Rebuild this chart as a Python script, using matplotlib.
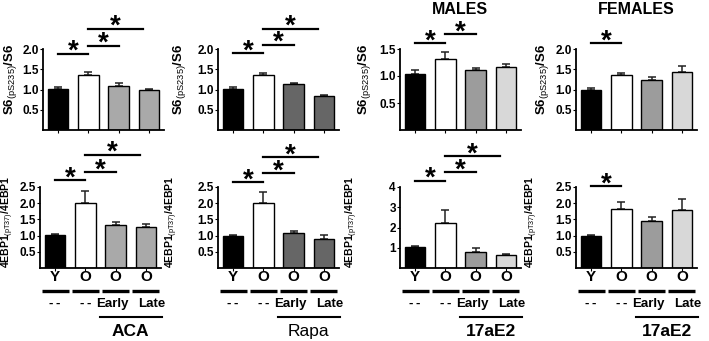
import matplotlib
matplotlib.use('Agg')
import matplotlib.pyplot as plt
import matplotlib.transforms as mtransforms

plt.rcParams['font.family'] = ['Liberation Sans', 'DejaVu Sans']
plt.rcParams['mathtext.fontset'] = 'custom'
plt.rcParams['mathtext.rm'] = 'Liberation Sans'
plt.rcParams['mathtext.default'] = 'rm'

# ---- data ----
groups = ['Y', 'O', 'O', 'O']
treat_labels = ['-\u2009-', '-\u2009-', 'Early', 'Late']
drugs = ['ACA', 'Rapa', '17aE2', '17aE2']
titles = ['', '', 'MALES', 'FEMALES']

# S6(pS235)/S6 (top row)
s6_aca = [1.02, 1.37, 1.08, 1.00]
s6_aca_err = [0.04, 0.05, 0.07, 0.02]
s6_rapa = [1.02, 1.35, 1.13, 0.83]
s6_rapa_err = [0.04, 0.05, 0.04, 0.04]
s6_males = [1.04, 1.32, 1.11, 1.16]
s6_males_err = [0.07, 0.12, 0.03, 0.07]
s6_females = [1.00, 1.37, 1.24, 1.44]
s6_females_err = [0.03, 0.04, 0.08, 0.15]

# 4EBP1(pT37)/4EBP1 (bottom row)
ebp_aca = [1.02, 2.02, 1.32, 1.26]
ebp_aca_err = [0.03, 0.35, 0.10, 0.10]
ebp_rapa = [1.00, 2.02, 1.08, 0.90]
ebp_rapa_err = [0.03, 0.33, 0.05, 0.12]
ebp_males = [1.03, 2.22, 0.80, 0.63]
ebp_males_err = [0.07, 0.65, 0.20, 0.07]
ebp_females = [1.00, 1.82, 1.45, 1.78]
ebp_females_err = [0.02, 0.23, 0.12, 0.35]

# significant comparisons (bar index pairs)
sig_top = [[(0, 1), (1, 2), (1, 3)],
           [(0, 1), (1, 2), (1, 3)],
           [(0, 1), (1, 2)],
           [(0, 1)]]
sig_bottom = [[(0, 1), (1, 2), (1, 3)],
              [(0, 1), (1, 2), (1, 3)],
              [(0, 1), (1, 2), (1, 3)],
              [(0, 1)]]

# ---- styles ----
colors_aca = ['black', 'white', '#a9a9a9', '#a9a9a9']
colors_rapa = ['black', 'white', '#666666', '#666666']
colors_17a = ['black', 'white', '#9c9c9c', '#d8d8d8']
panel_colors = [colors_aca, colors_rapa, colors_17a, colors_17a]

top_ticks = [[0.5, 1.0, 1.5, 2.0], [0.5, 1.0, 1.5, 2.0], [0.5, 1.0, 1.5], [0.5, 1.0, 1.5, 2.0]]
bot_ticks = [[0.5, 1.0, 1.5, 2.0, 2.5], [0.5, 1.0, 1.5, 2.0, 2.5], [1, 2, 3, 4], [0.5, 1.0, 1.5, 2.0, 2.5]]

# line heights for significance bars (axes fraction)
top_sig_y = [[0.94, 1.04, 1.25], [0.95, 1.05, 1.25], [1.07, 1.185], [1.07]]
bot_sig_y = [[1.085, 1.185, 1.395], [1.06, 1.17, 1.37], [1.075, 1.185, 1.38], [1.01]]

# label x positions (axes fraction)
top_label_x = [-0.2, -0.25, -0.22, -0.21]
bot_label_x = [-0.2, -0.31, -0.33, -0.3]
treat_offsets = [0, 0, -0.12, 0.18]

W, H = 709, 341
fig = plt.figure(figsize=(W / 100, H / 100), dpi=100)

top_left = [43, 218, 400, 576]
bot_left = [40, 218, 400, 576]


def px_axes(left, top, bottom, width=121):
    return fig.add_axes([left / W, (H - bottom) / H, width / W, (bottom - top) / H])


def draw_panel(ax, vals, errs, cols, ticks, sigs, sig_y, ylabel, label_size, fmt):
    x = range(len(vals))
    ax.bar(x, vals, width=0.67, color=cols, edgecolor='black', linewidth=1.0, zorder=2)
    ax.errorbar(x, vals, yerr=[[0] * len(errs), errs], fmt='none', ecolor='#222222',
                elinewidth=1.1, capsize=3, capthick=1.1, zorder=1)
    ax.set_xlim(-0.5, 3.5)
    ax.set_ylim(0, ticks[-1])
    ax.set_yticks(ticks)
    ax.set_yticklabels([fmt.format(t) for t in ticks], fontsize=8.5, fontweight='bold')
    ax.set_xticks(list(x))
    ax.set_xticklabels([])
    ax.tick_params(axis='both', length=2, width=0.8, pad=1)
    for s in ['top', 'right']:
        ax.spines[s].set_visible(False)
    for s in ['left', 'bottom']:
        ax.spines[s].set_linewidth(1.3)
    ax.set_ylabel(ylabel, fontsize=label_size, fontweight='bold')
    trans = mtransforms.blended_transform_factory(ax.transData, ax.transAxes)
    for (a, b), yy in zip(sigs, sig_y):
        x2 = b if b - a == 1 else b - 0.2
        ax.plot([a, x2], [yy, yy], color='black', lw=1.6, transform=trans, clip_on=False)
        ax.annotate('*', xy=((a + x2) / 2, yy), xycoords=trans, xytext=(0, -8),
                    textcoords='offset points', ha='center', va='bottom',
                    fontsize=20, fontweight='bold')
    return trans


top_data = [(s6_aca, s6_aca_err), (s6_rapa, s6_rapa_err),
            (s6_males, s6_males_err), (s6_females, s6_females_err)]
bot_data = [(ebp_aca, ebp_aca_err), (ebp_rapa, ebp_rapa_err),
            (ebp_males, ebp_males_err), (ebp_females, ebp_females_err)]

top_label = r'S6$_{\mathrm{(pS235)}}$/S6'
bot_label = r'4EBP1$_{\mathrm{(pT37)}}$/4EBP1'

for i in range(4):
    # top row
    ax = px_axes(top_left[i], 49, 130)
    vals, errs = top_data[i]
    draw_panel(ax, vals, errs, panel_colors[i], top_ticks[i], sig_top[i], top_sig_y[i],
               top_label, 9.5, '{:.1f}')
    ax.yaxis.set_label_coords(top_label_x[i], 0.63)
    if titles[i]:
        fig.text((top_left[i] + 60) / W, (H - 9) / H, titles[i], ha='center', va='center',
                 fontsize=11.5, fontweight='bold')

    # bottom row
    ax = px_axes(bot_left[i], 187, 268)
    vals, errs = bot_data[i]
    fmt = '{:.0f}' if i == 2 else '{:.1f}'
    trans = draw_panel(ax, vals, errs, panel_colors[i], bot_ticks[i], sig_bottom[i], bot_sig_y[i],
                       bot_label, 7.5, fmt)
    ax.yaxis.set_label_coords(bot_label_x[i], 0.57)

    # group labels beneath the bottom row
    for j in range(4):
        ax.text(j, -0.11, groups[j], transform=trans, ha='center', va='center',
                fontsize=11, fontweight='bold', clip_on=False)
        ax.plot([j - 0.45, j + 0.45], [-0.28, -0.28], color='black', lw=2.4,
                transform=trans, clip_on=False, solid_capstyle='butt')
        ax.text(j + treat_offsets[j], -0.44, treat_labels[j], transform=trans, ha='center',
                va='center', fontsize=9.5, fontweight='bold', clip_on=False)
    ax.plot([1.47, 3.53], [-0.6, -0.6], color='black', lw=1.5, transform=trans, clip_on=False)
    ax.text(2.5, -0.78, drugs[i], transform=trans, ha='center', va='center',
            fontsize=12.5, fontweight='normal' if drugs[i] == 'Rapa' else 'bold', clip_on=False)

fig.savefig('out.png', dpi=100)
